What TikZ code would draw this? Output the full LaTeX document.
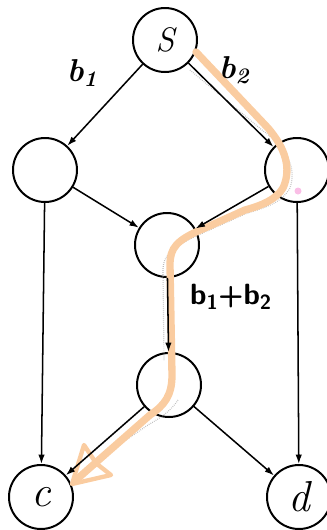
\documentclass[tikz,border=0pt]{standalone}
\usepackage{fontspec}
\usepackage{tikz}
\usepackage{xcolor}
\usetikzlibrary{arrows.meta}

\definecolor{pathorange}{RGB}{250,204,160}
\definecolor{markpink}{RGB}{250,190,230}

\tikzset{
  vertex/.style={circle, draw, line width=1.7pt, minimum size=19.2mm, inner sep=0pt},
  edge/.style={-{Latex[length=8pt,width=5.5pt]}, line width=1.3pt},
  route/.style={draw=pathorange, line width=2.2mm, line cap=round, line join=round},
  grain/.style={draw=black!45, line width=1pt, dash pattern=on 0.6pt off 1.1pt, opacity=0.6},
  capacity/.style={font=\fontsize{27}{29}\selectfont\bfseries\itshape},
}

\begin{document}
\begin{tikzpicture}[x=0.3mm, y=-0.3mm]
    \useasboundingbox (0,0) rectangle (326,530);

    % Vertices
    \node[vertex] (s) at (165,40) {\fontsize{29}{29}\selectfont\itshape S};
    \node[vertex] (u) at (45,170) {};
    \node[vertex] (v) at (297,170) {};
    \node[vertex] (m) at (167,245) {};
    \node[vertex] (w) at (169,385) {};
    \node[vertex] (c) at (41,497) {\fontsize{37}{37}\selectfont\itshape c};
    \node[vertex] (d) at (299,497) {\fontsize{37}{37}\selectfont\itshape d};

    % Chosen route (marker stroke), with its grainy shadow
    \draw[grain] (190,70) -- (262,130) .. controls (290,150) and (296,170) .. (290,188)
        .. controls (280,205) and (262,208) .. (245,214) -- (205,232)
        .. controls (178,244) and (163,252) .. (163,270) -- (164,360);
    \draw[grain] (178,400) .. controls (170,412) and (160,418) .. (148,425) -- (92,463);
    \draw[route] (196,52) -- (268,128) .. controls (285,148) and (292,168) .. (283,188)
        .. controls (276,200) and (260,206) .. (245,210) -- (205,228)
        .. controls (176,240) and (170,248) .. (170,265) -- (172,375)
        .. controls (172,395) and (165,405) .. (150,415) -- (76,480);
    \draw[route, line width=1.3mm] (96,463) -- (84,445) -- (72,484) -- (111,475) -- (97,464);
    \fill[markpink] (298,191) circle (3.5);

    % Edges
    \draw[edge] (s) -- (u);
    \draw[edge] (s) -- (v);
    \draw[edge] (u) -- (m);
    \draw[edge] (v) -- (m);
    \draw[edge] (u) -- (c);
    \draw[edge] (v) -- (d);
    \draw[edge] (m) -- (w);
    \draw[edge] (w) -- (c);
    \draw[edge] (w) -- (d);

    % Capacities
    \node[capacity] (b1) at (82,73) {b\textsubscript{1}};
    \node[capacity] (b2) at (234,70) {b\textsubscript{2}};
    \node (bsum) at (231,297) {\fontsize{25}{27}\selectfont\sffamily\bfseries b\textsubscript{1}+b\textsubscript{2}};
\end{tikzpicture}
\end{document}
